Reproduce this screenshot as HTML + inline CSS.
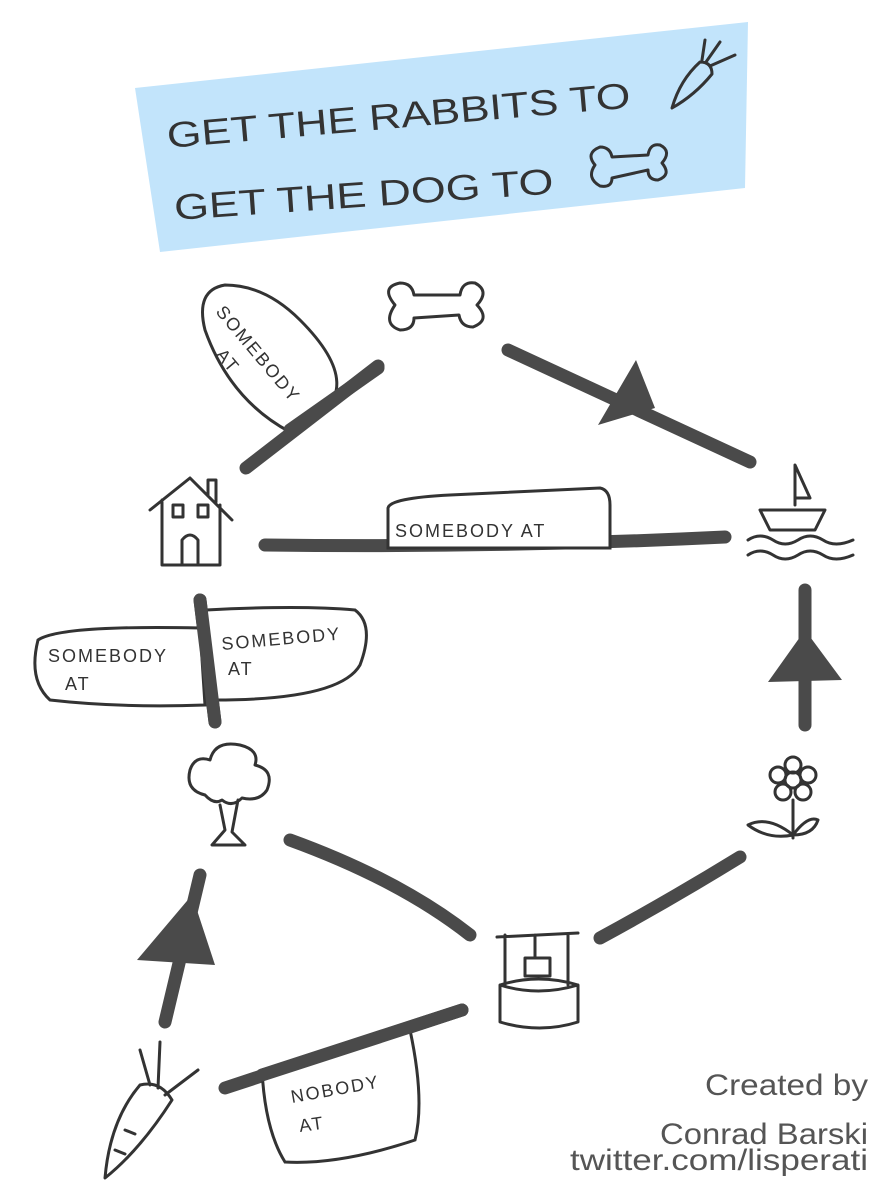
<!DOCTYPE html>
<html><head><meta charset="utf-8"><style>
html,body{margin:0;padding:0;background:#fff;}
svg{display:block}
.h{font-family:"Liberation Sans",sans-serif;fill:#333;}
</style></head><body>
<svg width="893" height="1200" viewBox="0 0 893 1200" xmlns="http://www.w3.org/2000/svg">
<polygon points="135,88 748,22 745,188 160,252" fill="#c2e4fb"/>
<g class="h" font-size="36">
<text x="168" y="148" transform="rotate(-5 168 148)" textLength="465" lengthAdjust="spacingAndGlyphs">GET THE RABBITS TO</text>
<text x="175" y="220" transform="rotate(-4 175 220)" textLength="380" lengthAdjust="spacingAndGlyphs">GET THE DOG TO</text>
</g>
<g fill="none" stroke="#333" stroke-width="3" stroke-linecap="round" stroke-linejoin="round">
<!-- carrot in title -->
<path d="M672,108 Q680,80 700,62 Q712,62 712,74 Q695,95 672,108 Z"/><path d="M706,62 L720,42 M710,66 L735,55 M702,60 L705,40"/>
<!-- bone in title -->
<path d="M595,165 q-10,-12 5,-18 q10,0 12,10 L648,155 q2,-12 12,-10 q12,6 2,18 q10,12 -4,17 q-10,0 -10,-10 L612,178 q0,10 -12,8 q-14,-8 -5,-21 z"/>
<!-- bone top -->
<path d="M395,305 q-15,-18 5,-22 q12,0 14,12 L460,295 q2,-14 15,-12 q15,8 2,22 q14,15 -4,22 q-12,0 -14,-12 L414,318 q0,12 -14,12 q-18,-6 -5,-25 z"/>
<!-- house -->
<path d="M150,510 L190,478 L232,520 M162,500 V565 H220 V505 M182,565 V540 q8,-10 16,0 V565 M208,495 V480 h8 V502 M173,505 h10 v12 h-10z M198,505 h10 v12 h-10z"/>
<!-- boat -->
<path d="M760,510 H825 L815,530 H770 Z M795,505 V465 L810,498 H795 M748,540 q12,-8 25,0 q12,8 25,0 q12,-8 25,0 q12,8 30,0 M748,555 q12,-8 25,0 q12,8 25,0 q12,-8 25,0 q12,8 30,0"/>
<!-- tree -->
<path d="M205,795 q-20,-5 -15,-25 q5,-15 20,-10 q5,-20 30,-15 q20,5 15,20 q20,5 12,25 q-8,12 -25,8 q-10,10 -20,2 q-8,5 -17,-5 z M220,805 L225,830 L212,845 H245 L232,832 L238,800"/>
<!-- flower -->
<circle cx="793" cy="780" r="8"/><circle cx="793" cy="765" r="8"/><circle cx="808" cy="775" r="8"/><circle cx="803" cy="792" r="8"/><circle cx="783" cy="792" r="8"/><circle cx="778" cy="775" r="8"/>
<path d="M793,800 V838 M793,835 q-25,-20 -45,-10 q20,15 45,10 M793,835 q15,-20 25,-15 q-5,15 -25,15"/>
<!-- well -->
<path d="M497,937 L578,933 M505,935 V985 M568,935 V985 M500,985 q38,-12 78,0 V1022 q-38,12 -78,0 Z M500,985 q38,12 78,0 M525,958 h25 v18 h-25z M535,935 V958"/>
<!-- carrot -->
<path d="M105,1178 Q110,1120 140,1085 Q160,1080 172,1100 Q140,1150 105,1178 Z M150,1085 L140,1050 M158,1088 L160,1042 M165,1095 L198,1070 M125,1130 l10,4 M115,1150 l10,4"/>
</g>
<!-- thick connectors -->
<g stroke="#4a4a4a" stroke-width="13" stroke-linecap="round" fill="none">
<path d="M246,468 L378,366"/><path d="M508,350 L750,462"/><path d="M265,545 Q500,548 725,537"/>
<path d="M805,590 L805,725"/><path d="M200,600 L215,722"/><path d="M290,840 Q400,880 470,935"/>
<path d="M600,938 Q670,900 740,857"/><path d="M165,1022 L200,875"/><path d="M225,1088 L462,1010"/>
</g>
<g fill="#4a4a4a">
<polygon points="598,425 636,360 655,408"/>
<polygon points="768,682 805,630 842,680"/>
<polygon points="137,960 192,895 215,965"/>
</g>
<!-- tags -->
<g fill="#fff" stroke="#333" stroke-width="3">
<path d="M290,432 Q230,400 205,330 Q195,290 225,285 Q265,285 300,320 Q345,365 335,395 Z"/>
<path d="M388,548 V508 Q390,498 450,495 L600,488 Q610,490 610,505 V548 Z"/>
<path d="M38,640 Q60,625 200,628 L205,705 Q120,708 50,700 Q28,680 38,640 Z"/>
<path d="M206,610 Q300,605 355,610 Q375,625 360,665 Q340,700 215,700 Z"/>
<path d="M262,1070 L410,1030 Q425,1100 415,1140 Q340,1165 285,1162 Q265,1130 262,1070 Z"/>
</g>
<g stroke="#4a4a4a" stroke-width="13" stroke-linecap="round"><path d="M290,430 L378,368"/><path d="M200,600 L215,722"/><path d="M262,1075 L462,1010"/></g>
<g class="h" font-size="18" letter-spacing="2">
<text x="215" y="312" transform="rotate(50 215 312)">SOMEBODY</text>
<text x="215" y="355" transform="rotate(50 215 355)">AT</text>
<text x="395" y="537">SOMEBODY AT</text>
<text x="48" y="662">SOMEBODY</text><text x="65" y="690">AT</text>
<text x="222" y="650" transform="rotate(-5 222 650)">SOMEBODY</text><text x="228" y="675">AT</text>
<text x="292" y="1103" transform="rotate(-10 292 1103)">NOBODY</text><text x="300" y="1132" transform="rotate(-8 300 1132)">AT</text>
</g>
<g font-family="Liberation Sans,sans-serif" font-size="30" fill="#555" text-anchor="end">
<text x="868" y="1095" textLength="163" lengthAdjust="spacingAndGlyphs">Created by</text>
<text x="868" y="1144" textLength="208" lengthAdjust="spacingAndGlyphs">Conrad Barski</text>
<text x="868" y="1170" textLength="298" lengthAdjust="spacingAndGlyphs">twitter.com/lisperati</text>
</g>
</svg>
</body></html>
